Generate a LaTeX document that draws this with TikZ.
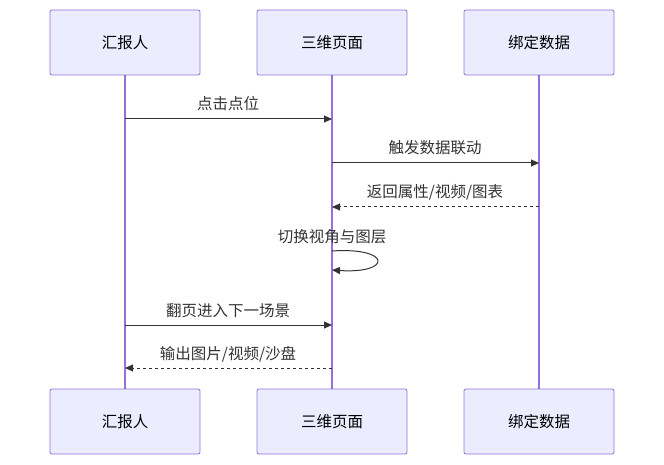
\documentclass[tikz,border=0pt]{standalone}
\usepackage{fontspec}
\setmainfont{Noto Sans CJK SC}
\usetikzlibrary{arrows.meta}
\definecolor{boxfill}{HTML}{ECECFF}
\definecolor{boxline}{HTML}{9370DB}
\definecolor{ink}{HTML}{333333}
\begin{document}
\begin{tikzpicture}[x=1pt,y=-1pt,
  actor/.style={draw=boxline,fill=boxfill,rounded corners=2pt,minimum width=150pt,minimum height=65pt,font=\fontsize{15.5}{18}\selectfont,text=black,line width=0.8pt},
  life/.style={draw=boxline,line width=1.3pt},
  msg/.style={draw=ink,line width=1pt,-{Triangle[length=8pt,width=7pt]}},
  dmsg/.style={msg,dash pattern=on 3pt off 3pt},
  lbl/.style={font=\fontsize{15.5}{18}\selectfont,text=ink}]
\useasboundingbox (0,0) rectangle (664,465);
\foreach \n/\x in {a/125,b/332,c/539}{
  \coordinate (\n t) at (\x,75);
  \coordinate (\n b) at (\x,389);
}
\draw[life] (at)--(ab); \draw[life] (bt)--(bb); \draw[life] (ct)--(cb);
\node[actor] (a1) at (125,42.5) {汇报人};
\node[actor] (b1) at (332,42.5) {三维页面};
\node[actor] (c1) at (539,42.5) {绑定数据};
\node[actor] (a2) at (125,421.5) {汇报人};
\node[actor] (b2) at (332,421.5) {三维页面};
\node[actor] (c2) at (539,421.5) {绑定数据};
\coordinate (m1s) at (125,119); \coordinate (m1e) at (332,119);
\draw[msg] (m1s)--(m1e); \node[lbl] (l1) at (228,104) {点击点位};
\coordinate (m2s) at (332,163); \coordinate (m2e) at (539,163);
\draw[msg] (m2s)--(m2e); \node[lbl] (l2) at (435,148) {触发数据联动};
\coordinate (m3s) at (539,207); \coordinate (m3e) at (332,207);
\draw[dmsg] (m3s)--(m3e); \node[lbl] (l3) at (435,192) {返回属性/视频/图表};
\coordinate (m4s) at (332,251); \coordinate (m4e) at (332,270);
\draw[msg] (m4s) .. controls (392,247) and (392,274) .. (m4e);
\node[lbl] (l4) at (332,237) {切换视角与图层};
\coordinate (m5s) at (125,325); \coordinate (m5e) at (332,325);
\draw[msg] (m5s)--(m5e); \node[lbl] (l5) at (228,311) {翻页进入下一场景};
\coordinate (m6s) at (332,368); \coordinate (m6e) at (125,368);
\draw[dmsg] (m6s)--(m6e); \node[lbl] (l6) at (228,354) {输出图片/视频/沙盘};
\end{tikzpicture}
\end{document}
